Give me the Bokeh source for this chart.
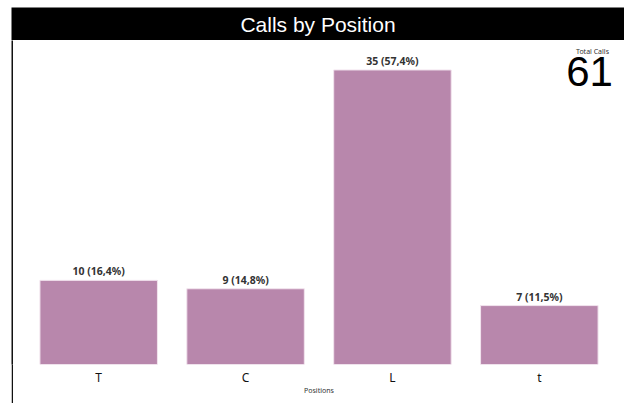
from bokeh.plotting import figure
from bokeh.models import ColumnDataSource, Label, FactorRange, Range1d, Spacer
from bokeh.layouts import column, row
from bokeh.core.properties import value
from bokeh.embed import file_html
from bokeh.resources import INLINE

chart_title = "Calls by Position"
positions = ["T", "C", "L", "t"]
calls = [10, 9, 35, 7]
total_calls = sum(calls)
pct = [c / total_calls * 100 for c in calls]
bar_labels = [f"{c} ({p:.1f}%)".replace(".", ",") for c, p in zip(calls, pct)]

source = ColumnDataSource(dict(pos=positions, calls=calls, lbl=bar_labels))

# --- title band ---
band = figure(width=624, height=40, x_range=Range1d(0, 1), y_range=Range1d(0, 1),
              output_backend="svg", toolbar_location=None,
              min_border_left=11, min_border_top=7, min_border_right=0, min_border_bottom=0)
band.axis.visible = False
band.grid.visible = False
band.outline_line_color = None
band.background_fill_color = "black"
band.border_fill_color = "white"
band.text(x=[0.5], y=[0.5], text=[chart_title], text_align="center", text_baseline="middle",
          text_font=value("Liberation Sans"), text_font_size="21px", text_color="white")

# --- left border strip (whole canvas dark) ---
strip = figure(width=2, height=363, x_range=Range1d(0, 1), y_range=Range1d(0, 1),
               output_backend="svg", toolbar_location=None,
               min_border_left=0, min_border_top=0, min_border_right=0, min_border_bottom=0)
strip.axis.visible = False
strip.grid.visible = False
strip.outline_line_color = None
strip.background_fill_color = "#111111"
strip.border_fill_color = "#111111"

# --- main chart ---
p = figure(
    width=611, height=363,
    x_range=FactorRange(*positions, range_padding=0.04),
    y_range=Range1d(0, max(calls) * 1.1),
    output_backend="svg", toolbar_location=None,
    min_border_left=0, min_border_right=0, min_border_top=0, min_border_bottom=39,
)
p.vbar(x="pos", top="calls", width=0.8, source=source,
       fill_color="#b887ac", line_color="#f2e4ee", line_width=1)
p.text(x="pos", y="calls", text="lbl", source=source, y_offset=-9,
       text_align="center", text_baseline="alphabetic",
       text_font=value("Noto Sans"), text_font_size="10.5px", text_font_style="bold",
       text_color="#333333")

p.add_layout(Label(x=579, y=313, x_units="screen", y_units="screen", text="Total Calls",
                   text_align="center", text_baseline="alphabetic",
                   text_font="Noto Sans", text_font_size="7px", text_color="#333333"))
p.add_layout(Label(x=576, y=293, x_units="screen", y_units="screen", text=str(total_calls),
                   text_align="center", text_baseline="alphabetic",
                   text_font="Liberation Sans", text_font_size="42px", text_color="black"))

p.xgrid.visible = False
p.ygrid.visible = False
p.outline_line_color = None
p.yaxis.visible = False

xa = p.xaxis[0]
xa.axis_label = "Positions"
xa.axis_label_text_font = "Noto Sans"
xa.axis_label_text_font_size = "7px"
xa.axis_label_text_font_style = "normal"
xa.axis_label_text_color = "#333333"
xa.axis_label_standoff = -3
xa.axis_line_color = None
xa.major_tick_line_color = None
xa.minor_tick_line_color = None
xa.major_tick_out = 0
xa.major_tick_in = 0
xa.major_label_standoff = 4
xa.major_label_text_font = "Noto Sans"
xa.major_label_text_font_size = "12px"
xa.major_label_text_color = "#111111"

layout = column(band, row(Spacer(width=11, height=363), strip, p, spacing=0), spacing=0)
open("out.html", "w").write(file_html(layout, INLINE))
